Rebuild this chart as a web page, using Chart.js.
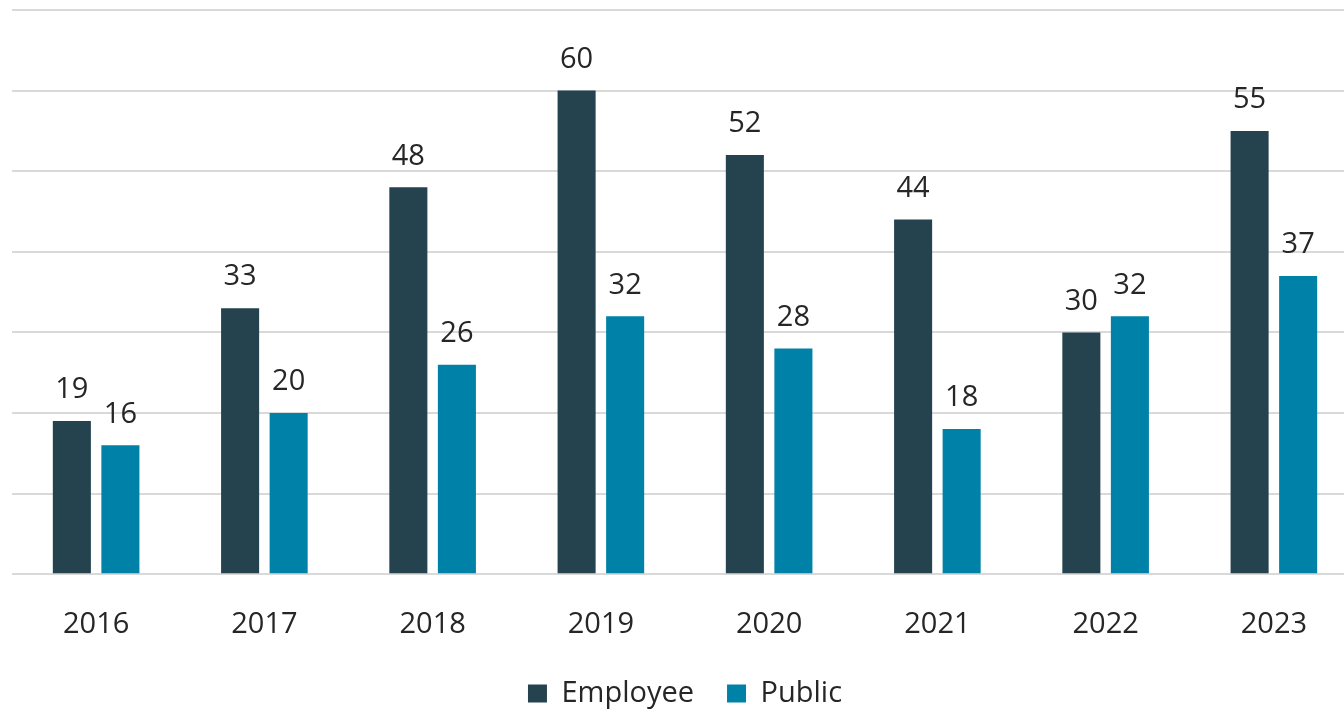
<!DOCTYPE html>
<html>
<head>
<meta charset="utf-8">
<script src="https://cdn.jsdelivr.net/npm/chart.js@4"></script>
<style>
  html, body { margin: 0; padding: 0; background: #fff; overflow: hidden; }
  #wrap { width: 1360px; height: 718px; }
</style>
</head>
<body>
<div id="wrap"><canvas id="barchart" width="1360" height="718"></canvas></div>
<script>
var years = ["2016", "2017", "2018", "2019", "2020", "2021", "2022", "2023"];
var employeeData = [19, 33, 48, 60, 52, 44, 30, 55];
var publicData = [16, 20, 26, 32, 28, 18, 32, 37];
var yTicks = [0, 10, 20, 30, 40, 50, 60, 70];

var textColor = "#262626";
var fontFamily = "'Segoe UI', 'Open Sans', sans-serif";

// value labels above each bar
var barLabels = {
  id: "barLabels",
  afterDatasetsDraw(chart) {
    let ctx = chart.ctx;
    ctx.save();
    ctx.font = "29px " + fontFamily;
    ctx.fillStyle = textColor;
    ctx.textAlign = "center";
    ctx.textBaseline = "middle";
    chart.data.datasets.forEach((ds, i) => {
      chart.getDatasetMeta(i).data.forEach((bar, j) => {
        ctx.fillText(ds.data[j], bar.x, bar.y - 31);
      });
    });
    ctx.restore();
  },
};

let ctx = document.getElementById("barchart").getContext("2d");

let chart = new Chart(ctx, {
  type: "bar",
  data: {
    labels: years,
    datasets: [
      {
        label: "Employee",
        backgroundColor: "#25434f",
        data: employeeData,
        barPercentage: 0.784,
        categoryPercentage: 0.577,
      },
      {
        label: "Public",
        backgroundColor: "#0082a8",
        data: publicData,
        barPercentage: 0.784,
        categoryPercentage: 0.577,
      },
    ],
  },
  options: {
    responsive: false,
    animation: false,
    layout: {
      padding: { left: 12, right: 2, top: 10, bottom: 0 },
    },
    scales: {
      x: {
        grid: { display: false, drawTicks: false },
        border: { display: false },
        ticks: {
          color: textColor,
          padding: 33,
          font: { size: 29, family: fontFamily },
        },
      },
      y: {
        min: 0,
        max: 70,
        afterBuildTicks: (axis) => {
          axis.ticks = yTicks.map((v) => ({ value: v }));
        },
        grid: { color: "#d9d9d9", lineWidth: 2, drawTicks: false },
        border: { display: false },
        ticks: { display: false },
      },
    },
    plugins: {
      tooltip: { enabled: false },
      legend: {
        position: "bottom",
        labels: {
          color: textColor,
          boxWidth: 19,
          boxHeight: 18,
          padding: 4,
          font: { size: 29, family: fontFamily },
          // widen the gap between the two legend items
          generateLabels: (c) => {
            let items = Chart.defaults.plugins.legend.labels.generateLabels(c);
            items[0].text = items[0].text + "\u2003";
            return items;
          },
        },
      },
    },
  },
  plugins: [barLabels],
});
</script>
</body>
</html>
